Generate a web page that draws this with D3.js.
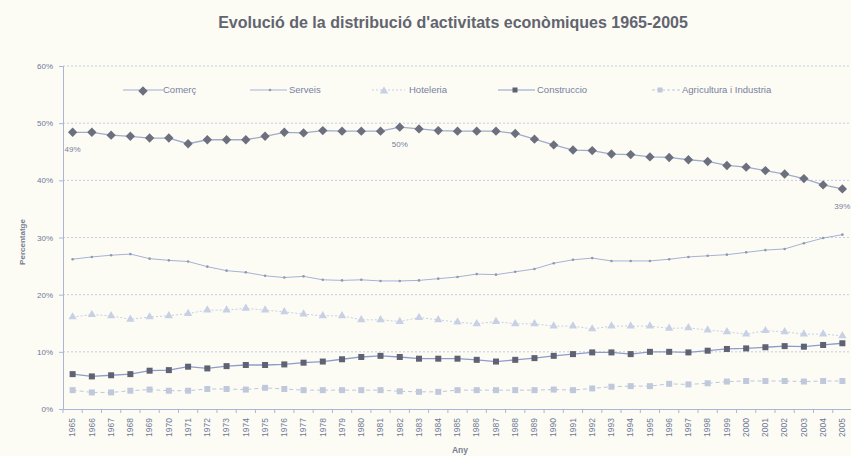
<!DOCTYPE html>
<html><head><meta charset="utf-8">
<script src="https://cdn.jsdelivr.net/npm/d3@7"></script>
<style>
html,body{margin:0;padding:0;background:#fcfcf5;}
svg{display:block;font-family:"Liberation Sans",Arial,sans-serif;}
</style></head>
<body><svg id="c" width="851" height="456"></svg>
<script>
const years = d3.range(1965, 2006).map(String);
const comerc = [48.4,48.4,47.9,47.7,47.4,47.4,46.4,47.1,47.1,47.1,47.7,48.4,48.3,48.7,48.6,48.6,48.6,49.3,49.0,48.7,48.6,48.6,48.6,48.2,47.2,46.2,45.3,45.2,44.6,44.5,44.1,44.0,43.6,43.3,42.6,42.3,41.7,41.1,40.3,39.2,38.5];
const serveis = [26.2,26.6,26.9,27.1,26.3,26.0,25.8,24.9,24.2,23.9,23.3,23.0,23.2,22.6,22.5,22.6,22.4,22.4,22.5,22.8,23.1,23.6,23.5,24.0,24.5,25.5,26.1,26.4,25.9,25.9,25.9,26.2,26.6,26.8,27.0,27.4,27.8,28.0,29.0,29.9,30.5];
const hoteleria = [16.1,16.5,16.3,15.7,16.1,16.3,16.7,17.3,17.3,17.6,17.3,17.0,16.6,16.3,16.3,15.6,15.6,15.3,16.0,15.6,15.2,14.9,15.3,14.9,14.9,14.5,14.5,14.0,14.5,14.5,14.5,14.1,14.2,13.8,13.5,13.1,13.7,13.5,13.1,13.1,12.8];
const construccio = [6.1,5.7,5.9,6.1,6.7,6.8,7.4,7.1,7.5,7.7,7.7,7.8,8.1,8.3,8.7,9.1,9.3,9.1,8.8,8.8,8.8,8.6,8.3,8.6,8.9,9.3,9.6,9.9,9.9,9.6,10.0,10.0,9.9,10.2,10.5,10.6,10.8,11.0,10.9,11.2,11.5];
const agricultura = [3.3,2.9,2.9,3.2,3.4,3.2,3.2,3.5,3.5,3.4,3.7,3.5,3.3,3.3,3.3,3.3,3.3,3.1,3.0,3.0,3.3,3.3,3.3,3.3,3.3,3.4,3.3,3.6,3.9,4.0,4.0,4.4,4.3,4.5,4.8,4.9,4.9,4.9,4.8,4.9,4.9];
const yTicks = [0,10,20,30,40,50,60];
const seriesNames = ["Comerç","Serveis","Hoteleria","Construccio","Agricultura i Industria"];
const annotations = [{year:"1965", v:48.4, label:"49%"},{year:"1982", v:49.3, label:"50%"},{year:"2005", v:38.5, label:"39%"}];

const svg = d3.select("#c");
const x = d3.scaleBand().domain(years).range([63, 852]);
const y = d3.scaleLinear().domain([0, 60]).range([409, 66]);
const cx = d => x(d) + x.bandwidth()/2;
const axisCol = "#a9b6d8", textCol = "#6f7898";

svg.append("text").attr("x", 453).attr("y", 28).attr("text-anchor","middle")
  .attr("font-size", 16).attr("font-weight","bold").attr("fill","#62646f")
  .text("Evolució de la distribució d'activitats econòmiques 1965-2005");

// grid
svg.append("g").selectAll("line").data(yTicks.filter(t=>t>0)).join("line")
  .attr("x1",63).attr("x2",851).attr("y1",d=>y(d)).attr("y2",d=>y(d))
  .attr("stroke","#c4cde6").attr("stroke-width",1).attr("stroke-dasharray","2,2");

// y axis
const ya = svg.append("g").attr("transform","translate(63,0)")
  .call(d3.axisLeft(y).tickValues(yTicks).tickFormat(d=>d+"%").tickSize(4).tickPadding(6));
ya.select(".domain").attr("stroke",axisCol);
ya.selectAll(".tick line").attr("stroke",axisCol);
ya.selectAll("text").attr("fill",textCol).attr("font-size",8).attr("font-family","Liberation Sans, Arial");

// x axis
const xa = svg.append("g").attr("transform","translate(0,409)")
  .call(d3.axisBottom(x).tickSize(0).tickPadding(0));
xa.select(".domain").attr("stroke",axisCol);
xa.selectAll(".tick text").attr("fill",textCol).attr("font-size",8.5).attr("font-family","Liberation Sans, Arial")
  .attr("transform","rotate(-90)").attr("text-anchor","end").attr("dx","-9").attr("dy","0.32em");
svg.append("g").selectAll("line").data(years.concat(["end"])).join("line")
  .attr("x1",(d,i)=>63+i*x.bandwidth()).attr("x2",(d,i)=>63+i*x.bandwidth())
  .attr("y1",409).attr("y2",413).attr("stroke",axisCol);

svg.append("text").attr("transform","translate(25,242) rotate(-90)").attr("text-anchor","middle")
  .attr("font-size",8).attr("font-weight","bold").attr("fill","#7a7e92").text("Percentatge");
svg.append("text").attr("x",460).attr("y",453).attr("text-anchor","middle")
  .attr("font-size",8.5).attr("font-weight","bold").attr("fill","#7a7e92").text("Any");

const line = d3.line().x((d,i)=>cx(years[i])).y(d=>y(d));
const diamond = d3.symbol().type(d3.symbolSquare).size(44);
const tri = d3.symbol().type(d3.symbolTriangle).size(30);

// Agricultura
svg.append("path").attr("d",line(agricultura)).attr("fill","none").attr("stroke","#bcc6e0").attr("stroke-width",1).attr("stroke-dasharray","4,3");
svg.append("g").selectAll("rect").data(agricultura).join("rect")
  .attr("x",(d,i)=>cx(years[i])-3).attr("y",d=>y(d)-3).attr("width",6).attr("height",6).attr("fill","#c0c8dc");
// Construccio
svg.append("path").attr("d",line(construccio)).attr("fill","none").attr("stroke","#8e9ccc").attr("stroke-width",1.3);
svg.append("g").selectAll("rect").data(construccio).join("rect")
  .attr("x",(d,i)=>cx(years[i])-3).attr("y",d=>y(d)-3).attr("width",6).attr("height",6).attr("fill","#5e6272");
// Hoteleria
svg.append("path").attr("d",line(hoteleria)).attr("fill","none").attr("stroke","#c6cfe6").attr("stroke-width",1).attr("stroke-dasharray","2,2");
svg.append("g").selectAll("path").data(hoteleria).join("path")
  .attr("d",tri).attr("transform",(d,i)=>`translate(${cx(years[i])},${y(d)})`).attr("fill","#c8d0e6");
// Serveis
svg.append("path").attr("d",line(serveis)).attr("fill","none").attr("stroke","#a6b2d6").attr("stroke-width",1);
svg.append("g").selectAll("circle").data(serveis).join("circle")
  .attr("cx",(d,i)=>cx(years[i])).attr("cy",d=>y(d)).attr("r",1.3).attr("fill","#9098b8");
// Comerç
svg.append("path").attr("d",line(comerc)).attr("fill","none").attr("stroke","#a0abcc").attr("stroke-width",1.3);
svg.append("g").selectAll("path").data(comerc).join("path")
  .attr("d",diamond).attr("transform",(d,i)=>`translate(${cx(years[i])},${y(d)}) rotate(45)`).attr("fill","#6c707e");

// annotations
svg.append("g").selectAll("text").data(annotations).join("text")
  .attr("x",d=>cx(d.year)).attr("y",d=>y(d.v)+20).attr("text-anchor","middle")
  .attr("font-size",8).attr("fill","#7880a0").text(d=>d.label);

// legend
const leg = [
  {x1:123,x2:163,mx:143,tx:163,type:"diamond",stroke:"#a0abcc",dash:null,fill:"#6c707e"},
  {x1:250,x2:287,mx:270,tx:289,type:"dot",stroke:"#a6b2d6",dash:null,fill:"#9098b8"},
  {x1:372,x2:405,mx:384,tx:409,type:"tri",stroke:"#c6cfe6",dash:"2,2",fill:"#c8d0e6"},
  {x1:498,x2:535,mx:515,tx:537,type:"sq",stroke:"#8e9ccc",dash:null,fill:"#5e6272"},
  {x1:652,x2:680,mx:660,tx:682,type:"sq",stroke:"#bcc6e0",dash:"3,2",fill:"#c0c8dc"}
];
const lg = svg.append("g").selectAll("g").data(leg).join("g");
lg.append("line").attr("x1",d=>d.x1).attr("x2",d=>d.x2).attr("y1",90).attr("y2",90)
  .attr("stroke",d=>d.stroke).attr("stroke-dasharray",d=>d.dash);
lg.each(function(d){
  const g = d3.select(this);
  if(d.type==="diamond") g.append("path").attr("d",diamond).attr("transform",`translate(${d.mx},91) rotate(45)`).attr("fill",d.fill);
  else if(d.type==="dot") g.append("circle").attr("cx",d.mx).attr("cy",90).attr("r",1.3).attr("fill",d.fill);
  else if(d.type==="tri") g.append("path").attr("d",tri).attr("transform",`translate(${d.mx},91)`).attr("fill",d.fill);
  else g.append("rect").attr("x",d.mx-2.5).attr("y",87.5).attr("width",5).attr("height",5).attr("fill",d.fill);
});
lg.append("text").attr("x",d=>d.tx).attr("y",92.5).attr("font-size",9.5).attr("fill","#7880a0")
  .text((d,i)=>seriesNames[i]);
</script></body></html>
